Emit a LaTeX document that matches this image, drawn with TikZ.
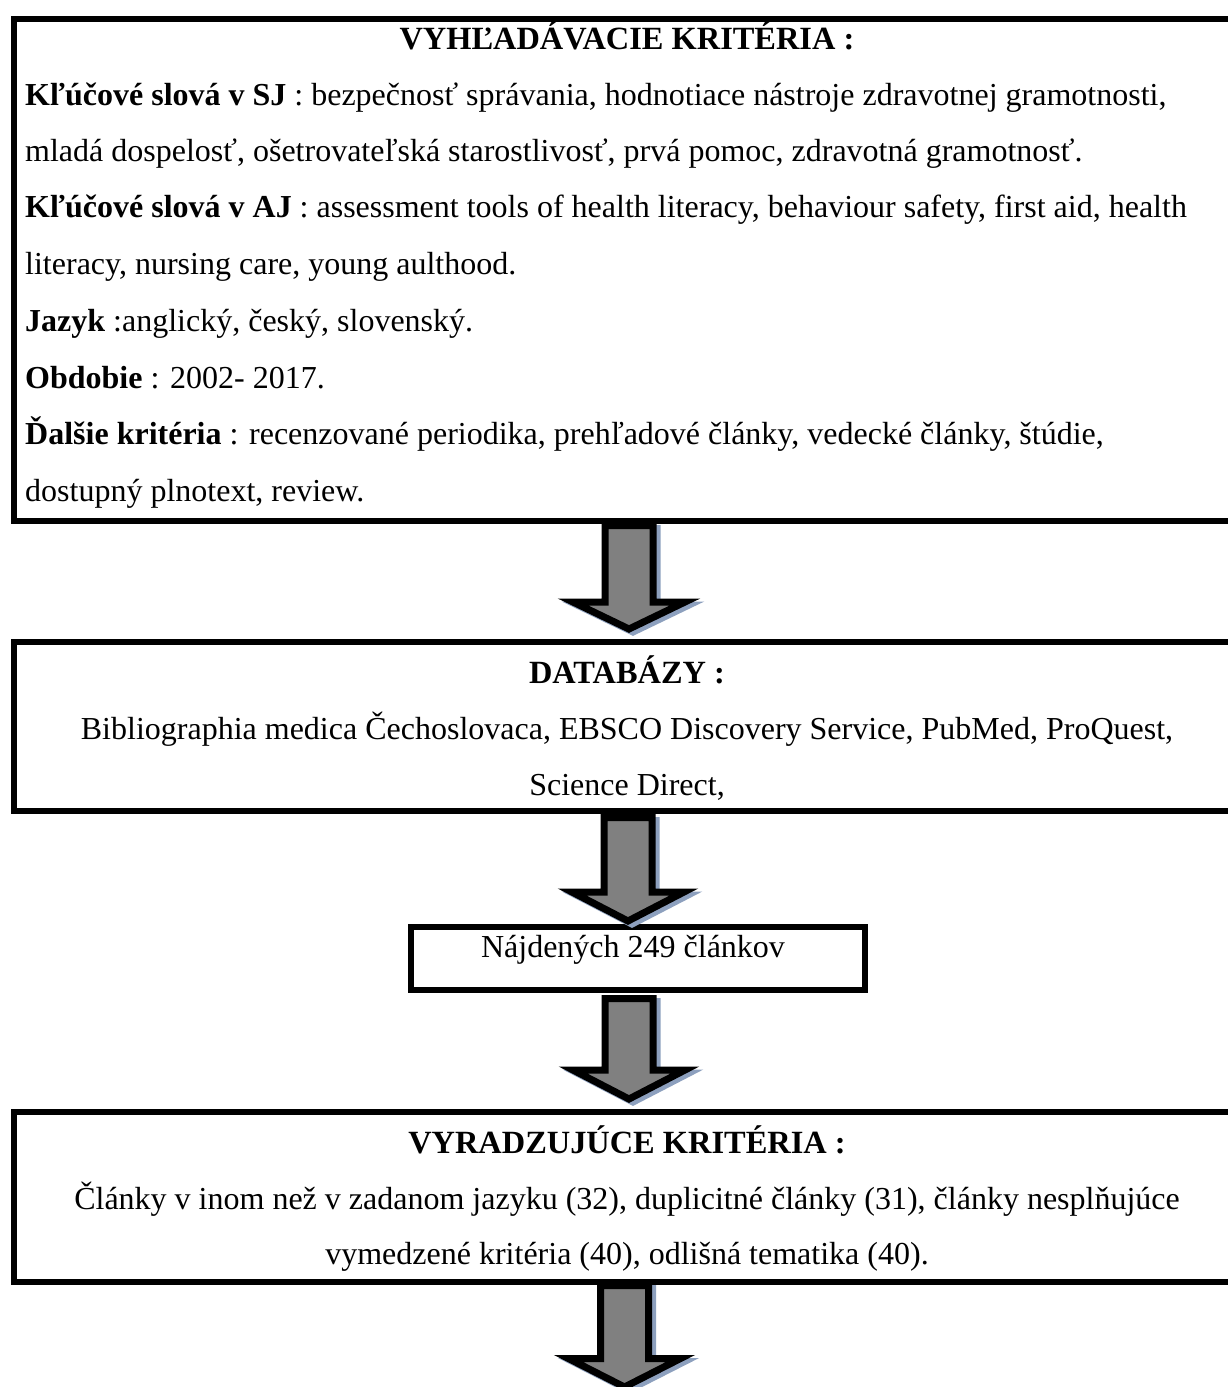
\documentclass[tikz,border=0pt]{standalone}
\usepackage{fontspec}
\setmainfont{Liberation Serif}
\definecolor{arrgray}{RGB}{128,128,128}
\definecolor{shadec}{RGB}{141,160,190}
\tikzset{
  boxline/.style={draw=black, line width=6pt, inner sep=0pt, anchor=north west},
  txt/.style={inner sep=0pt, font=\fontsize{32}{40}\selectfont},
  ttl/.style={inner sep=0pt, font=\fontsize{32.4}{40}\selectfont\bfseries, anchor=base},
  arrline/.style={draw=black, fill=arrgray, line width=7pt, line join=miter},
  arrshadow/.style={fill=shadec, draw=shadec, line width=7pt, line join=miter},
}
\newcommand\barrow[5]{%
  \coordinate (#1s) at (#2,#3);
  \coordinate (#1e) at (#2,#5);
  \path[arrshadow, shift={(4,3)}] (#2-24,#3) -- (#2+24,#3) -- (#2+24,#4) -- (#2+56,#4) -- (#2,#5) -- (#2-56,#4) -- (#2-24,#4) -- cycle;
  \path[arrline] (#2-24,#3) -- (#2+24,#3) -- (#2+24,#4) -- (#2+56,#4) -- (#2,#5) -- (#2-56,#4) -- (#2-24,#4) -- cycle;
}
\begin{document}
\begin{tikzpicture}[x=1pt,y=-1pt]
\useasboundingbox[fill=white] (0,0) rectangle (1228,1387);
% boxes
\node[boxline, minimum width=1239pt, minimum height=502pt] (b1) at (11,16) {};
\node[boxline, minimum width=1239pt, minimum height=169pt] (b2) at (11,639) {};
\node[boxline, minimum width=454pt, minimum height=63pt] (b3) at (408,924) {};
\node[boxline, minimum width=1239pt, minimum height=170pt] (b4) at (11,1109) {};
% arrows
\barrow{a1}{629}{525.5}{602}{629}
\barrow{a2}{628}{817.5}{892}{921}
\barrow{a3}{629}{998.5}{1070}{1099}
\barrow{a4}{624.5}{1285.5}{1358.5}{1387}
% text box 1
\node[ttl] (t1) at (627,49) {VYHĽADÁVACIE KRITÉRIA :};
\node[txt, anchor=base west] (t2) at (25,105) {\textbf{Kľúčové slová v SJ} : bezpečnosť správania, hodnotiace nástroje zdravotnej gramotnosti,};
\node[txt, anchor=base west] (t3) at (25,161) {mladá dospelosť, ošetrovateľská starostlivosť, prvá pomoc, zdravotná gramotnosť.};
\node[txt, anchor=base west] (t4) at (25,217) {\textbf{Kľúčové slová v AJ} : assessment tools of health literacy, behaviour safety, first aid, health};
\node[txt, anchor=base west] (t5) at (25,274) {literacy, nursing care, young aulthood.};
\node[txt, anchor=base west] (t6) at (25,331) {\textbf{Jazyk} :anglický, český, slovenský.};
\node[txt, anchor=base west] (t7) at (25,388) {\textbf{Obdobie} : 2002- 2017.};
\node[txt, anchor=base west] (t8) at (25,444.5) {\textbf{Ďalšie kritéria} : recenzované periodika, prehľadové články, vedecké články, štúdie,};
\node[txt, anchor=base west] (t9) at (25,501) {dostupný plnotext, review.};
% text box 2
\node[ttl] (d1) at (627,683) {DATABÁZY :};
\node[txt, anchor=base] (d2) at (627,739) {Bibliographia medica Čechoslovaca, EBSCO Discovery Service, PubMed, ProQuest,};
\node[txt, anchor=base] (d3) at (627,795) {Science Direct,};
\node[txt, anchor=base] (n1) at (633,957) {Nájdených 249 článkov};
% text box 4
\node[ttl] (v1) at (627,1153) {VYRADZUJÚCE KRITÉRIA :};
\node[txt, anchor=base] (v2) at (627,1209) {Články v inom než v zadanom jazyku (32), duplicitné články (31), články nesplňujúce};
\node[txt, anchor=base] (v3) at (627,1264) {vymedzené kritéria (40), odlišná tematika (40).};
\end{tikzpicture}
\end{document}
